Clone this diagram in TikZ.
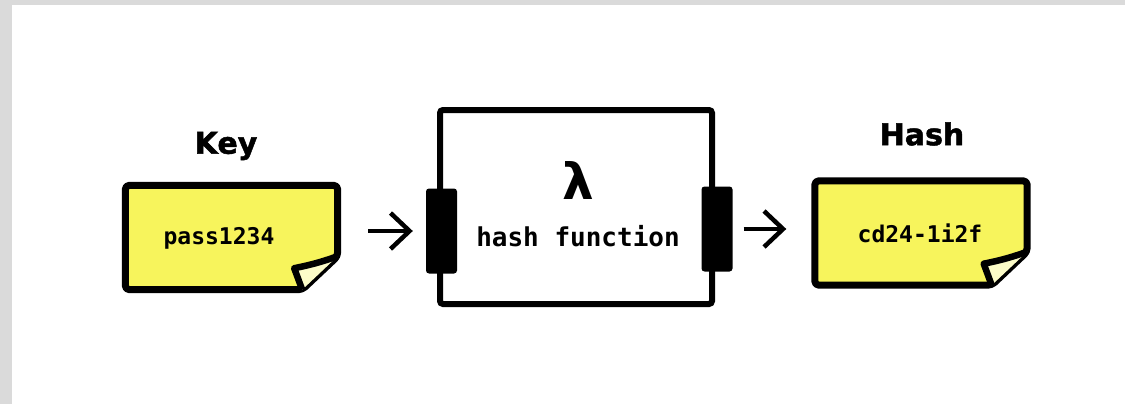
\documentclass[tikz,border=0pt]{standalone}
\usepackage{fontspec}
\setmainfont{DejaVu Sans}
\setmonofont{DejaVu Sans Mono}
\newfontfamily\heavyfont{DejaVu Sans Bold}[FakeBold=1.6]
\usetikzlibrary{calc,arrows.meta}

\definecolor{noteyellow}{RGB}{247,244,92}
\definecolor{flapyellow}{RGB}{252,252,200}
\definecolor{framegray}{RGB}{218,218,218}

\tikzset{
  notebox/.style={minimum width=219pt, minimum height=111pt, inner sep=0pt,
    font=\ttfamily\bfseries\fontsize{23}{27}\selectfont},
  noteline/.style={line width=7pt, line join=round, rounded corners=4pt},
  heading/.style={font=\heavyfont\fontsize{30}{36}\selectfont},
  fnbox/.style={draw, line width=6pt, rounded corners=3pt, minimum width=272pt,
    minimum height=194pt, inner sep=0pt},
  port/.style={fill=black, rounded corners=3pt, minimum width=31pt,
    minimum height=85pt, inner sep=0pt},
  flow/.style={line width=4.5pt, -{Straight Barb[length=19pt,width=36pt]}},
}

% sticky note outline with a folded bottom-right corner
\newcommand\stickyoutline[1]{%
  \draw[noteline, fill=noteyellow]
    ($(#1.north west)+(3.5,3.5)$) -- ($(#1.north east)+(-3.5,3.5)$)
    -- ($(#1.south east)+(-3.5,-37)$) -- ($(#1.south east)+(-39,-3.5)$)
    -- ($(#1.south west)+(3.5,-3.5)$) -- cycle;
  \draw[line width=6.5pt, line join=round, fill=flapyellow]
    ($(#1.south east)+(-3.5,-37)$) to[bend left=4] ($(#1.south east)+(-47,-25)$)
    -- ($(#1.south east)+(-39,-3.5)$);
}

\begin{document}
\begin{tikzpicture}[x=1pt, y=-1pt]
  \useasboundingbox (0,0) rectangle (1125,404);
  % page frame shading along the top and left edges
  \fill[framegray] (0,0) rectangle (1125,5);
  \fill[framegray] (0,0) rectangle (12,404);

  % input key
  \node[notebox] (key) at (231.5,237.5) {};
  \stickyoutline{key}
  \node[notebox] (keytext) at (219,238) {pass1234};
  \node[heading] (keylabel) at (226,146) {Key};

  % hash function block
  \node[fnbox] (fn) at (576,207) {};
  \node[port] (inL) at (441.5,231) {};
  \node[port] (outR) at (717,229) {};
  \node[font=\bfseries\fontsize{50}{56}\selectfont] (lambda) at (578,181) {λ};
  \node[font=\ttfamily\bfseries\fontsize{26}{30}\selectfont] (fnname) at (578,236) {hash function};

  % output hash
  \node[notebox] (hash) at (921,233) {};
  \stickyoutline{hash}
  \node[notebox] (hashtext) at (920,233) {cd24-1i2f};
  \node[heading] (hashlabel) at (922,134) {Hash};

  % flow arrows
  \draw[flow, shorten <=27pt, shorten >=13pt] (key.east |- inL.west) -- (inL.west);
  \draw[flow, shorten <=11pt, shorten >=25pt] (outR.east) -- (hash.west |- outR.east);
\end{tikzpicture}
\end{document}
